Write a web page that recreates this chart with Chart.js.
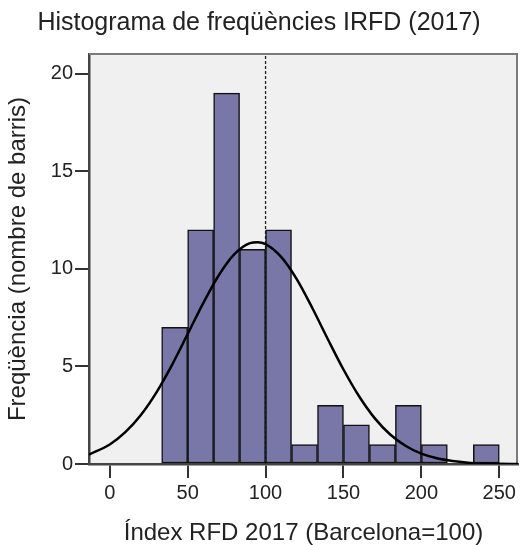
<!DOCTYPE html>
<html>
<head>
<meta charset="utf-8">
<script src="https://cdn.jsdelivr.net/npm/chart.js@4"></script>
<style>
  html, body { margin: 0; padding: 0; background: #ffffff; }
  canvas { display: block; }
</style>
</head>
<body>
<canvas id="c" width="520" height="545"></canvas>
<script>
// ---- Data ----
const chartTitle = 'Histograma de freqüències IRFD (2017)';
const xTitle = 'Índex RFD 2017 (Barcelona=100)';
const yTitle = 'Freqüència (nombre de barris)';

// histogram bin edges (width 16.67) and counts per bin
const binEdges = [33.333, 50, 66.667, 83.333, 100, 116.667, 133.333, 150, 166.667, 183.333, 200, 216.667, 233.333, 250];
const binCounts = [7, 12, 19, 11, 12, 1, 3, 2, 1, 3, 1, 0, 1];

// normal curve, points
const curveX = [-13.3, 0, 10, 20, 30, 40, 50, 60, 70, 80, 90, 95, 100, 110, 120, 130, 140, 150, 160, 170, 180, 190, 200, 210, 220, 230, 240, 250, 262];
const curveY = [0.48, 1.00, 1.63, 2.51, 3.67, 5.08, 6.65, 8.24, 9.67, 10.75, 11.31, 11.36, 11.26, 10.61, 9.47, 7.99, 6.39, 4.84, 3.47, 2.35, 1.51, 0.92, 0.53, 0.29, 0.15, 0.07, 0.03, 0.01, 0.00];

// reference (Barcelona = 100) dashed line
const referenceValue = 100;

// axis ranges and ticks
const xMin = -13.3, xMax = 262, xStep = 50;
const yMin = 0, yMax = 21, yStep = 5;

// ---- Build datasets ----
const barData = binCounts.map((c, i) => ({ x: (binEdges[i] + binEdges[i + 1]) / 2, y: c }));
const curveData = curveX.map((x, i) => ({ x: x, y: curveY[i] }));
const refData = [{ x: referenceValue, y: yMin }, { x: referenceValue, y: yMax }];

const FONT = "'Liberation Sans', Arial, Helvetica, sans-serif";

const plotFrame = {
  id: 'plotFrame',
  beforeDraw(chart) {
    const { ctx, chartArea: a } = chart;
    ctx.save();
    ctx.fillStyle = '#F0F0F0';
    ctx.fillRect(a.left, a.top, a.right - a.left, a.bottom - a.top);
    ctx.restore();
  },
  beforeDatasetsDraw(chart) {
    const { ctx, chartArea: a } = chart;
    ctx.save();
    ctx.strokeStyle = '#7a7a7a';
    ctx.lineWidth = 2;
    ctx.beginPath();
    ctx.moveTo(a.left, a.top);
    ctx.lineTo(a.right - 1, a.top);
    ctx.lineTo(a.right - 1, a.bottom);
    ctx.stroke();
    ctx.restore();
  }
};

new Chart(document.getElementById('c'), {
  type: 'bar',
  data: {
    datasets: [
      {
        type: 'line',
        data: curveData,
        borderColor: '#000000',
        borderWidth: 2.5,
        pointRadius: 0,
        cubicInterpolationMode: 'monotone',
        fill: false,
        order: 0
      },
      {
        type: 'bar',
        data: barData,
        backgroundColor: '#7977A8',
        borderColor: '#111111',
        borderWidth: 1.5,
        borderSkipped: false,
        barPercentage: 1,
        categoryPercentage: 1,
        grouped: false,
        order: 1
      },
      {
        type: 'line',
        data: refData,
        borderColor: '#222222',
        borderWidth: 1.3,
        borderDash: [3, 2],
        pointRadius: 0,
        fill: false,
        order: 2
      }
    ]
  },
  options: {
    responsive: false,
    animation: false,
    layout: { padding: { left: 0, right: 2, top: 0, bottom: 0 } },
    plugins: {
      legend: { display: false },
      tooltip: { enabled: false },
      title: {
        display: true,
        text: chartTitle,
        color: '#222222',
        font: { family: FONT, size: 25, weight: 'normal', lineHeight: 1 },
        padding: { top: 11, bottom: 18 }
      }
    },
    scales: {
      x: {
        type: 'linear',
        min: xMin,
        max: xMax,
        offset: false,
        afterFit(scale) { scale.height = 81; },
        ticks: {
          stepSize: xStep,
          includeBounds: false,
          color: '#222222',
          padding: 3,
          maxRotation: 0,
          font: { family: FONT, size: 20 }
        },
        grid: {
          display: true,
          offset: false,
          drawOnChartArea: false,
          drawTicks: true,
          tickLength: 14,
          color: '#333333',
          lineWidth: 2
        },
        border: { display: true, color: '#444444', width: 2.5 },
        title: {
          display: true,
          text: xTitle,
          color: '#222222',
          font: { family: FONT, size: 24, lineHeight: 1 },
          padding: { top: 0, bottom: 0 }
        }
      },
      y: {
        type: 'linear',
        min: yMin,
        max: yMax,
        afterFit(scale) { scale.width = 89; },
        ticks: {
          stepSize: yStep,
          includeBounds: false,
          color: '#222222',
          padding: 2,
          font: { family: FONT, size: 20 }
        },
        grid: {
          display: true,
          offset: false,
          drawOnChartArea: false,
          drawTicks: true,
          tickLength: 14,
          color: '#333333',
          lineWidth: 2
        },
        border: { display: true, color: '#444444', width: 2.5 },
        title: {
          display: true,
          text: yTitle,
          color: '#222222',
          font: { family: FONT, size: 24, lineHeight: 1 },
          padding: { top: 6.5, bottom: 0 }
        }
      }
    }
  },
  plugins: [plotFrame]
});
</script>
</body>
</html>
